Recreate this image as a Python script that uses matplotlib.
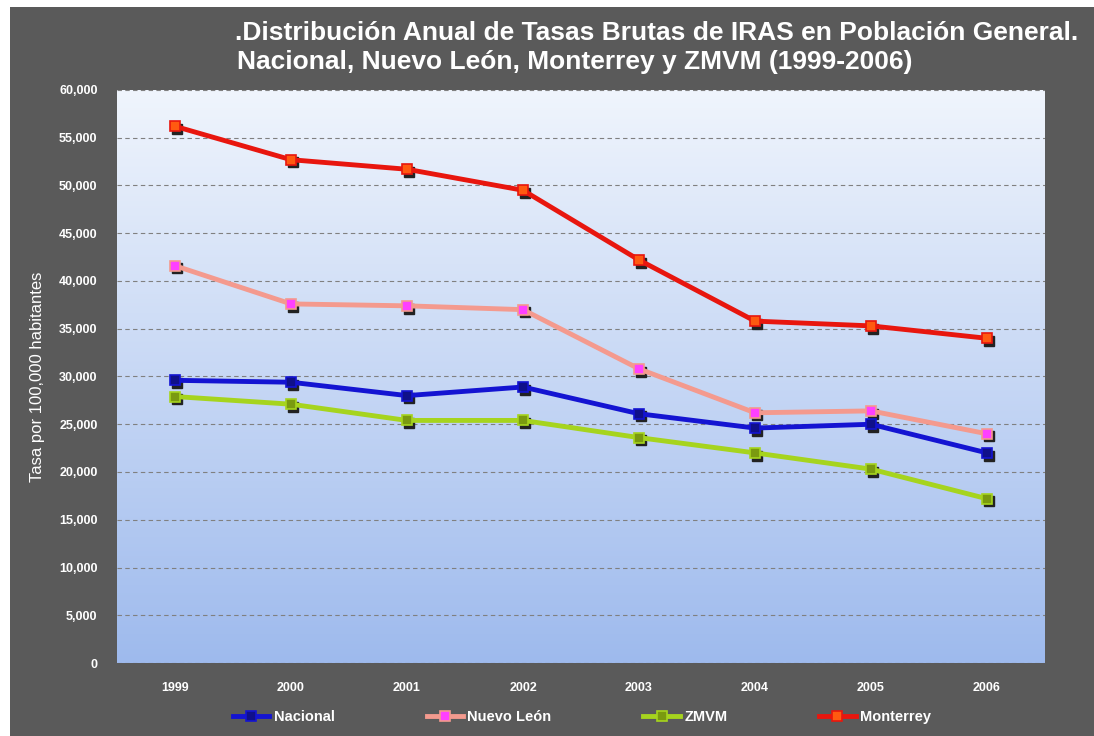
import matplotlib
matplotlib.use("Agg")
import matplotlib.pyplot as plt
import numpy as np
from matplotlib.patches import Rectangle
from matplotlib.ticker import FuncFormatter, MultipleLocator

years = ["1999", "2000", "2001", "2002", "2003", "2004", "2005", "2006"]
nacional = [29600, 29400, 28000, 28900, 26100, 24600, 25000, 22000]
nuevo_leon = [41600, 37600, 37400, 37000, 30800, 26200, 26400, 24000]
zmvm = [27900, 27100, 25400, 25400, 23600, 22000, 20300, 17200]
monterrey = [56200, 52700, 51700, 49500, 42200, 35800, 35300, 34000]

series = [
    ("Nacional", nacional, "#1414d2", "#10108a"),
    ("Nuevo León", nuevo_leon, "#f49a8e", "#ff40ff"),
    ("ZMVM", zmvm, "#a6d41e", "#7a9a10"),
    ("Monterrey", monterrey, "#e8160e", "#ff5a10"),
]

plt.rcParams['font.family'] = ['Liberation Sans', 'DejaVu Sans']

fig = plt.figure(figsize=(10.94, 7.36), dpi=100)
fig.patch.set_facecolor("#5a5a5a")
# white margins on the left and top
fig.patches.append(Rectangle((0, 0), 10 / 1094, 1, transform=fig.transFigure,
                             facecolor="white", edgecolor="none", zorder=-5))
fig.patches.append(Rectangle((0, 1 - 7 / 736), 1, 7 / 736, transform=fig.transFigure,
                             facecolor="white", edgecolor="none", zorder=-5))

ax = fig.add_axes([117 / 1094, 1 - 663 / 736, (1045 - 117) / 1094, (663 - 90) / 736])
ax.set_facecolor("#dde8f6")

grad = np.linspace(0, 1, 256).reshape(-1, 1)
top = np.array([0.94, 0.96, 0.99])
bot = np.array([0.62, 0.73, 0.93])
img = top[None, None, :] * (1 - grad[:, :, None]) + bot[None, None, :] * grad[:, :, None]
ax.imshow(img, extent=[0, 1, 0, 1], transform=ax.transAxes, aspect="auto", zorder=0)

x = np.arange(len(years))
for name, vals, lc, mc in series:
    # subtle shadow under the markers
    ax.plot(x + 0.02, np.array(vals) - 280, linestyle="none", marker="s", markersize=7,
            color="#222222", zorder=3)
    ax.plot(x, vals, color=lc, linewidth=3.5, marker="s", markersize=7,
            markerfacecolor=mc, markeredgecolor=lc, markeredgewidth=1.2,
            label=name, zorder=4)

ax.set_xlim(-0.5, len(years) - 0.5)
ax.set_ylim(0, 60000)
ax.yaxis.set_major_locator(MultipleLocator(5000))
ax.yaxis.set_major_formatter(FuncFormatter(lambda v, p: f"{int(v):,}"))
ax.set_xticks(x)
ax.set_xticklabels(years)
ax.grid(axis="y", color="#808080", linestyle=(0, (4, 3)), linewidth=0.8, zorder=1)
ax.set_axisbelow(True)
for s in ax.spines.values():
    s.set_visible(False)
ax.tick_params(axis="both", length=0, colors="white", labelsize=9)
for lab in ax.get_xticklabels() + ax.get_yticklabels():
    lab.set_fontweight("bold")
ax.tick_params(axis="x", pad=14)
ax.tick_params(axis="y", pad=14)

ax.set_ylabel("Tasa por 100,000 habitantes", color="white", fontsize=12, labelpad=10)

fig.text(235 / 1094, 1 - 33 / 736, ".Distribución Anual de Tasas Brutas de IRAS en Población General.",
         color="white", fontsize=19, fontweight="bold", ha="left", va="center")
fig.text(237 / 1094, 1 - 62 / 736, "Nacional, Nuevo León, Monterrey y ZMVM (1999-2006)",
         color="white", fontsize=19, fontweight="bold", ha="left", va="center")

leg = fig.legend(loc="center", bbox_to_anchor=(582 / 1094, 1 - 717 / 736), ncol=4,
                 frameon=False, columnspacing=6.3, handlelength=2.5,
                 handletextpad=0.3, labelcolor="white", prop={"weight": "bold", "size": 10.5})

fig.savefig("out.png", dpi=100, facecolor=fig.get_facecolor())
